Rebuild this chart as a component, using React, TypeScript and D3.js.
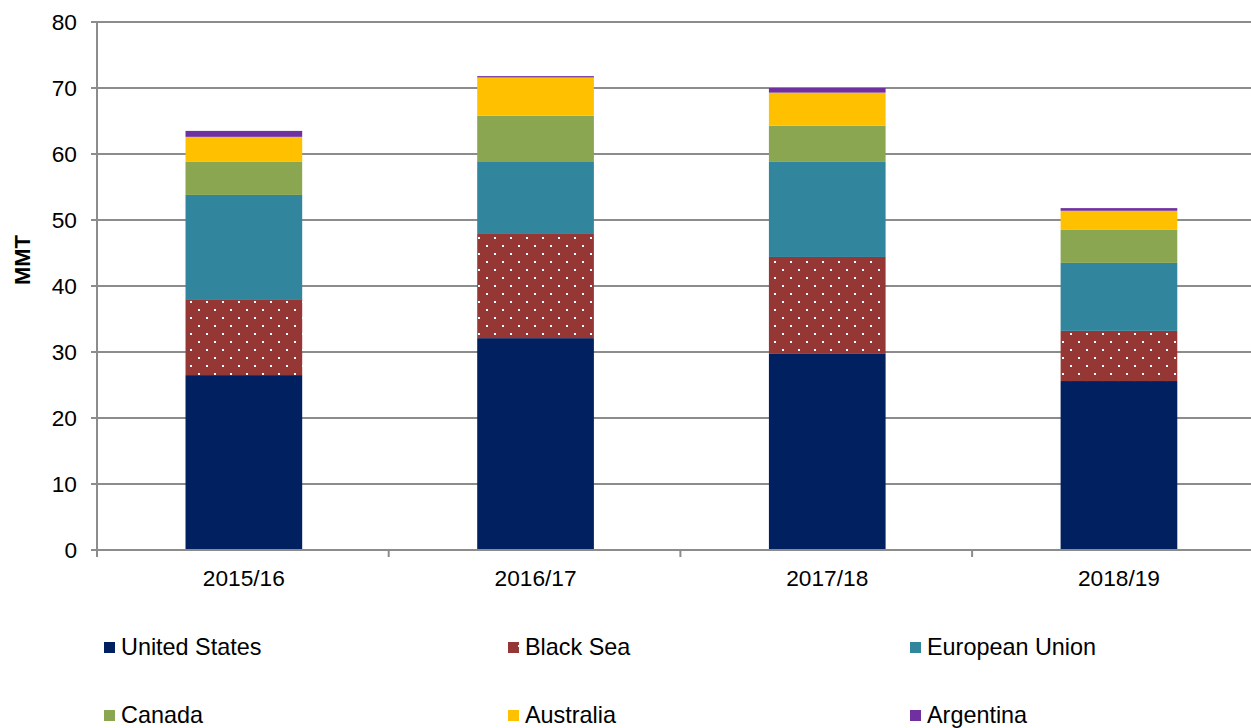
import React from "react";
import * as d3 from "d3";

const categories = ["2015/16", "2016/17", "2017/18", "2018/19"];
const seriesNames = ["United States", "Black Sea", "European Union", "Canada", "Australia", "Argentina"];
const unitedStates = [26.5, 32.1, 29.8, 25.6];
const blackSea = [11.5, 15.9, 14.6, 7.6];
const europeanUnion = [15.8, 10.9, 14.4, 10.3];
const canada = [5.0, 6.9, 5.5, 5.0];
const australia = [3.8, 5.8, 5.0, 2.9];
const argentina = [0.9, 0.2, 0.7, 0.4];
const yTicks = [0, 10, 20, 30, 40, 50, 60, 70, 80];
const colors = ["#002060", "#953735", "#31859C", "#8BA650", "#FFC000", "#7030A0"];

const W = 1251, H = 728;
const margin = { left: 97, top: 22, bottom: 178 };
const plotRight = 97 + 4 * 291.7;

export default function App() {
  const seriesValues = [unitedStates, blackSea, europeanUnion, canada, australia, argentina];
  const table = categories.map((c, i) => {
    const row: any = { cat: c };
    seriesNames.forEach((s, j) => (row[s] = seriesValues[j][i]));
    return row;
  });
  const stack = d3.stack<any>().keys(seriesNames)(table);
  const x = d3.scaleBand().domain(categories).range([margin.left, plotRight]).paddingInner(0.6).paddingOuter(0.3);
  const xOuter = d3.scaleBand().domain(categories).range([margin.left, plotRight]);
  const y = d3.scaleLinear().domain([0, 80]).range([H - margin.bottom, margin.top]);
  const font = "Liberation Sans, Arial, sans-serif";
  const grid = "#8C8C8C";
  const fill = (j: number) => (j === 1 ? "url(#dots)" : colors[j]);
  const legendCols = [104, 508, 910];
  const legendRows = [647, 715];

  return (
    <svg width={W} height={H} style={{ position: "absolute", left: 0, top: 0 }} fontFamily={font}>
      <defs>
        <pattern id="dots" patternUnits="userSpaceOnUse" width={16} height={16}>
          <rect width={16} height={16} fill={colors[1]} />
          <rect x={6} y={5} width={2} height={2} fill="#fff" />
          <rect x={14} y={13} width={2} height={2} fill="#fff" />
        </pattern>
      </defs>
      {yTicks.map((t) => (
        <g key={t}>
          {t > 0 && <line x1={margin.left} x2={W} y1={y(t)} y2={y(t)} stroke={grid} strokeWidth={2} />}
          <line x1={margin.left - 6} x2={margin.left} y1={y(t)} y2={y(t)} stroke={grid} strokeWidth={2} />
          <text x={77} y={y(t)} dy="0.35em" textAnchor="end" fontSize={22.7} fill="#000">{t}</text>
        </g>
      ))}
      {stack.map((s, j) => (
        <g key={s.key}>
          {s.map((d, i) => (
            <rect key={i} x={x(categories[i])! + 1} width={x.bandwidth()} y={y(d[1])} height={y(d[0]) - y(d[1])} fill={fill(j)} />
          ))}
        </g>
      ))}
      <line x1={margin.left} x2={margin.left} y1={margin.top} y2={y(0)} stroke={grid} strokeWidth={2} />
      <line x1={margin.left} x2={W} y1={y(0)} y2={y(0)} stroke={grid} strokeWidth={2} />
      {categories.map((c, i) => (
        <line key={c} x1={xOuter(c)!} x2={xOuter(c)!} y1={y(0)} y2={y(0) + 7} stroke={grid} strokeWidth={2} />
      ))}
      {categories.map((c) => (
        <text key={c} x={x(c)! + 1 + x.bandwidth() / 2} y={586} textAnchor="middle" fontSize={22.7} fill="#000">{c}</text>
      ))}
      <text transform={`translate(30,260) rotate(-90)`} textAnchor="middle" fontSize={22} fontWeight="bold" fill="#000">MMT</text>
      {seriesNames.map((s, j) => {
        const lx = legendCols[j % 3];
        const ly = legendRows[Math.floor(j / 3)];
        return (
          <g key={s}>
            <rect x={lx} y={ly - 5} width={11} height={11} fill={fill(j)} />
            <text x={lx + 17} y={ly} dy="0.35em" fontSize={23.4} fill="#000">{s}</text>
          </g>
        );
      })}
    </svg>
  );
}
